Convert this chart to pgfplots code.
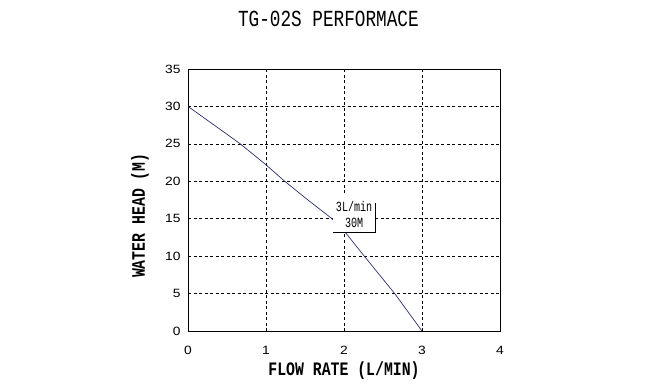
\documentclass[border=0pt]{standalone}
\usepackage{fontspec}
\setmainfont{Liberation Sans}
\newfontfamily\titlefont[FakeStretch=0.77]{Liberation Mono}
\newfontfamily\labelfont[FakeStretch=0.78]{Liberation Mono}
\newfontfamily\boxfont[FakeStretch=0.72]{Liberation Mono}
\newfontfamily\tickfont[FakeStretch=1.15]{Liberation Sans}
\usepackage{pgfplots}
\pgfplotsset{compat=1.18}
\definecolor{curve}{RGB}{45,45,115}
\begin{document}
\begin{tikzpicture}
\path[use as bounding box] (0pt,0pt) rectangle (660pt,388pt);
\begin{axis}[
  at={(188pt,57pt)}, anchor=south west,
  scale only axis, width=312pt, height=262pt,
  xmin=0, xmax=4, ymin=0, ymax=35,
  xtick={0,1,2,3,4}, ytick={0,5,10,15,20,25,30,35},
  grid=major,
  major grid style={black, line width=0.5pt, dash pattern=on 3pt off 2.5pt},
  axis line style={black, line width=0.6pt},
  tick style={draw=none},
  /pgf/number format/assume math mode=true,
  ticklabel style={font=\tickfont\fontsize{12}{12}\selectfont},
  xticklabel style={yshift=-11.5pt},
  yticklabel style={xshift=-4pt},
  title={TG-02S PERFORMACE},
  title style={font=\titlefont\fontsize{23}{23}\selectfont, at={(axis description cs:0.45,1.168)}, anchor=center},
  xlabel={\bfseries FLOW RATE (L/MIN)},
  xlabel style={font=\labelfont\fontsize{19}{19}\selectfont, at={(axis description cs:0.5,0)}, anchor=center, yshift=-40pt},
  ylabel={\bfseries WATER HEAD (M)},
  ylabel style={font=\labelfont\fontsize{19}{19}\selectfont, at={(axis description cs:-0.154,0.44)}, anchor=center},
]
\addplot[color=curve, line width=0.7pt] coordinates {
  (0,30) (0.35,27.4) (0.67,25) (1,22.2) (1.24,20) (1.55,17.4) (1.84,15.05)
  (2.03,13) (2.26,10) (2.65,5) (3,0)
};
\node[fill=white, inner sep=0pt, minimum width=42pt, minimum height=36pt,
      align=center, font=\boxfont\fontsize{14}{16}\selectfont] (bx) at (axis cs:2.13,15.6) {3L/min\\30M};
\draw[line width=1.3pt, black] ([yshift=-7pt]bx.north east) -- (bx.south east) -- (bx.south west);
\end{axis}
\end{tikzpicture}
\end{document}
